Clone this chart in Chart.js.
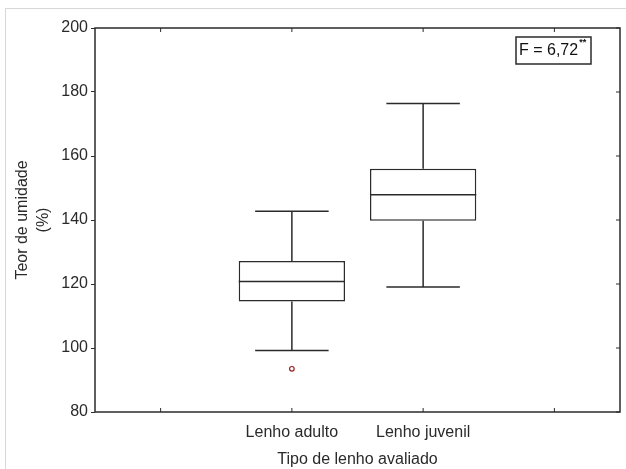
<!DOCTYPE html>
<html>
<head>
<meta charset="utf-8">
<script src="https://cdn.jsdelivr.net/npm/chart.js@4.4.0/dist/chart.umd.min.js"></script>
<style>
  body { margin: 0; background: #fff; overflow: hidden; }
  #wrap { position: relative; width: 626px; height: 469px; overflow: hidden; }
  #frame { position: absolute; left: 5px; top: 8px; width: 640px; height: 480px; border: 1px solid #d8d8d8; box-sizing: border-box; }
  #myChart { position: absolute; left: 0; top: 0; }
</style>
</head>
<body>
<div id="wrap">
  <div id="frame"></div>
  <canvas id="myChart" width="626" height="469"></canvas>
</div>
<script>
// dados do grafico
const categories = ["", "Lenho adulto", "Lenho juvenil", ""];
const whiskerLow = [null, 99.2, 119.1, null];
const q1 = [null, 114.5, 139.8, null];
const median = [null, 120.8, 147.9, null];
const q3 = [null, 127.2, 156.0, null];
const whiskerHigh = [null, 142.7, 176.4, null];
const outliers = [null, 93.5, null, null];
const yTicks = [80, 100, 120, 140, 160, 180, 200];
const fLabel = "F = 6,72";
const fSup = "**";

const lineColor = "#2b2b2b";
const fontFamily = "'Liberation Sans', Arial, sans-serif";

// desenha bigodes, mediana, moldura e caixa do F
const boxPlugin = {
  id: "boxPlugin",
  afterDatasetsDraw(chart) {
    const ctx = chart.ctx;
    const x = chart.scales.x;
    const y = chart.scales.y;
    const area = chart.chartArea;
    const bars = chart.getDatasetMeta(0).data;
    const slot = x.getPixelForValue(1) - x.getPixelForValue(0);

    ctx.save();
    ctx.strokeStyle = lineColor;
    ctx.lineWidth = 1.5;

    categories.forEach((c, i) => {
      if (median[i] == null) return;
      const cx = x.getPixelForValue(i);
      const half = bars[i].width / 2;
      const cap = slot * 0.28;

      ctx.beginPath();
      // mediana
      ctx.moveTo(cx - half, y.getPixelForValue(median[i]));
      ctx.lineTo(cx + half, y.getPixelForValue(median[i]));
      // bigode inferior
      ctx.moveTo(cx, y.getPixelForValue(q1[i]));
      ctx.lineTo(cx, y.getPixelForValue(whiskerLow[i]));
      ctx.moveTo(cx - cap, y.getPixelForValue(whiskerLow[i]));
      ctx.lineTo(cx + cap, y.getPixelForValue(whiskerLow[i]));
      // bigode superior
      ctx.moveTo(cx, y.getPixelForValue(q3[i]));
      ctx.lineTo(cx, y.getPixelForValue(whiskerHigh[i]));
      ctx.moveTo(cx - cap, y.getPixelForValue(whiskerHigh[i]));
      ctx.lineTo(cx + cap, y.getPixelForValue(whiskerHigh[i]));
      ctx.stroke();
    });

    // moldura
    ctx.lineWidth = 1.5;
    ctx.strokeRect(area.left, area.top, area.right - area.left, area.bottom - area.top);

    // marcas internas
    ctx.lineWidth = 1;
    ctx.beginPath();
    categories.forEach((c, i) => {
      const px = x.getPixelForValue(i);
      ctx.moveTo(px, area.bottom);
      ctx.lineTo(px, area.bottom - 4);
      ctx.moveTo(px, area.top);
      ctx.lineTo(px, area.top + 4);
    });
    yTicks.forEach((v) => {
      const py = y.getPixelForValue(v);
      ctx.moveTo(area.right, py);
      ctx.lineTo(area.right - 4, py);
    });
    ctx.stroke();

    // caixa do F
    ctx.font = "16px " + fontFamily;
    ctx.fillStyle = "#111";
    const tw = ctx.measureText(fLabel).width;
    const bx = area.right - 104;
    const by = area.top + 9;
    ctx.lineWidth = 1.5;
    ctx.strokeRect(bx, by, 75, 27);
    ctx.textBaseline = "middle";
    ctx.fillText(fLabel, bx + 3, by + 14);
    ctx.font = "bold 9px " + fontFamily;
    ctx.fillText(fSup, bx + 4 + tw, by + 6);
    ctx.restore();
  },
};

const ctx = document.getElementById("myChart");

new Chart(ctx, {
  data: {
    labels: categories,
    datasets: [
      {
        type: "bar",
        data: categories.map((c, i) => (q1[i] == null ? null : [q1[i], q3[i]])),
        backgroundColor: "#ffffff",
        borderColor: lineColor,
        borderWidth: 1.5,
        borderSkipped: false,
        categoryPercentage: 1,
        barPercentage: 0.81,
      },
      {
        type: "line",
        data: outliers,
        showLine: false,
        pointStyle: "circle",
        pointRadius: 2.3,
        pointBorderWidth: 1.2,
        pointBorderColor: "#9b2020",
        pointBackgroundColor: "#ffffff",
      },
    ],
  },
  options: {
    responsive: false,
    animation: false,
    layout: { padding: { top: 28, right: 6, left: 0, bottom: 0 } },
    plugins: {
      legend: { display: false },
      tooltip: { enabled: false },
    },
    scales: {
      x: {
        type: "category",
        offset: true,
        grid: { display: false },
        border: { display: false },
        ticks: {
          color: "#2a2a2a",
          padding: 3,
          font: { family: fontFamily, size: 16 },
        },
        title: {
          display: true,
          text: "Tipo de lenho avaliado",
          color: "#2a2a2a",
          padding: { top: 1, bottom: 0 },
          font: { family: fontFamily, size: 16 },
        },
        afterFit(scale) {
          scale.height = 469 - 412;
        },
      },
      y: {
        min: 80,
        max: 200,
        afterBuildTicks(scale) {
          scale.ticks = yTicks.map((v) => ({ value: v }));
        },
        grid: { drawOnChartArea: false, tickLength: 4, color: lineColor },
        border: { display: false },
        ticks: {
          color: "#2a2a2a",
          padding: 3,
          font: { family: fontFamily, size: 16 },
        },
        title: {
          display: true,
          text: ["Teor de umidade", "(%)"],
          color: "#2a2a2a",
          padding: { top: 12, bottom: 4 },
          font: { family: fontFamily, size: 16, lineHeight: 1.3 },
        },
        afterFit(scale) {
          scale.width = 95;
        },
      },
    },
  },
  plugins: [boxPlugin],
});
</script>
</body>
</html>
